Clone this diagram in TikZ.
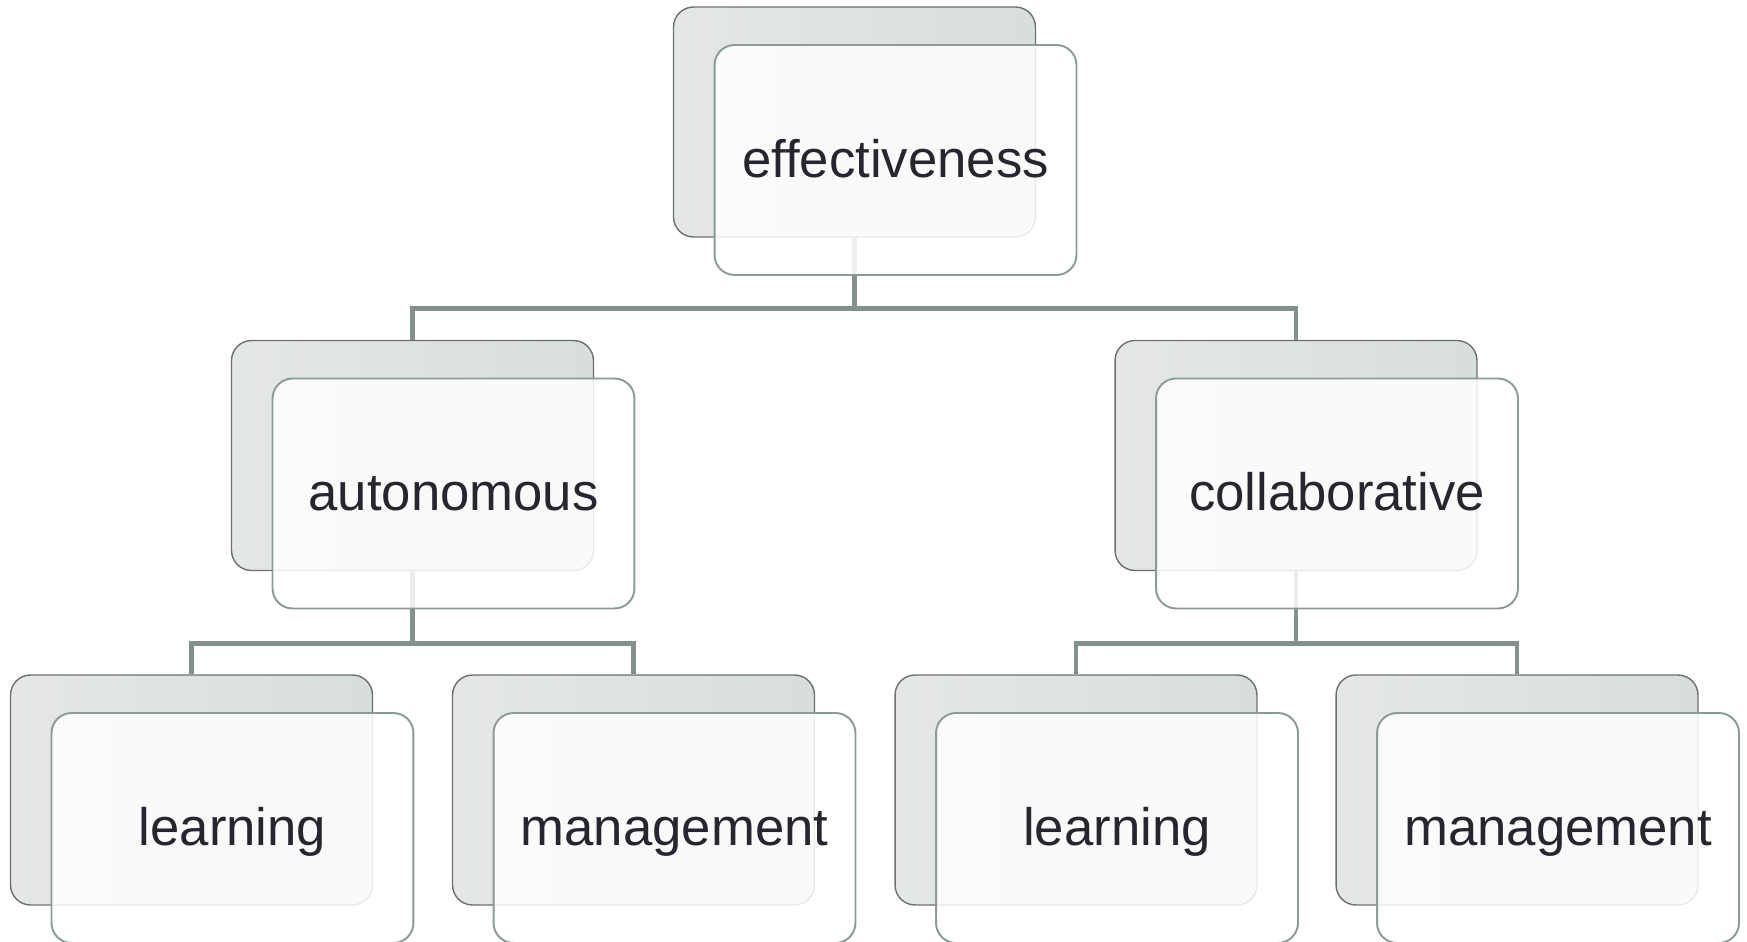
\documentclass[tikz,border=0pt]{standalone}
\usepackage{fontspec}
\setmainfont{Liberation Sans}
\usetikzlibrary{positioning}

\definecolor{inkc}{HTML}{25262E}
\definecolor{linkc}{HTML}{83918A}
\definecolor{cardline}{HTML}{8D9B93}
\definecolor{backline}{HTML}{6C706E}
\definecolor{backl}{HTML}{E4E7E5}
\definecolor{backr}{HTML}{D8DEDB}

\begin{document}
% grid of 0.02cm steps, y running downwards
\begin{tikzpicture}[x=0.02cm, y=-0.02cm, on grid,
   back/.style={rectangle, rounded corners=0.4cm, draw=backline, line width=0.8pt,
     left color=backl, right color=backr, minimum width=7.24cm, minimum height=4.6cm},
   card/.style={rectangle, rounded corners=0.4cm, draw=cardline, line width=1.1pt,
     fill=white, fill opacity=0.85, text opacity=1, text=inkc,
     minimum width=7.24cm, minimum height=4.6cm, inner sep=0pt,
     font=\fontsize{30}{36}\selectfont, text height=24pt, text depth=4.2pt,
     below right=0.76cm and 0.82cm of #1},
   link/.style={draw=linkc, line width=2.8pt}]
  \useasboundingbox (0,0) rectangle (1747,942);

  % back plates
  \node[back] (effB) at (854.5,122)  {};
  \node[back] (autB) at (412.5,455.5) {};
  \node[back] (colB) at (1296,455.5)  {};
  \node[back] (alB)  at (191.5,790)  {};
  \node[back] (amB)  at (633.5,790)  {};
  \node[back] (clB)  at (1076,790)   {};
  \node[back] (cmB)  at (1517,790)   {};

  % tree links
  \draw[link] (effB.south) -- ++(0,71) -| (autB.north);
  \draw[link] (effB.south) -- ++(0,71) -| (colB.north);
  \draw[link] (autB.south) -- ++(0,72) -| (alB.north);
  \draw[link] (autB.south) -- ++(0,72) -| (amB.north);
  \draw[link] (colB.south) -- ++(0,72) -| (clB.north);
  \draw[link] (colB.south) -- ++(0,72) -| (cmB.north);

  % labelled cards
  \node[card=effB] (eff) {effectiveness};
  \node[card=autB] (aut) {autonomous};
  \node[card=colB] (col) {collaborative};
  \node[card=alB]  (al)  {learning};
  \node[card=amB]  (am)  {management};
  \node[card=clB]  (cl)  {learning};
  \node[card=cmB]  (cm)  {management};
\end{tikzpicture}
\end{document}
